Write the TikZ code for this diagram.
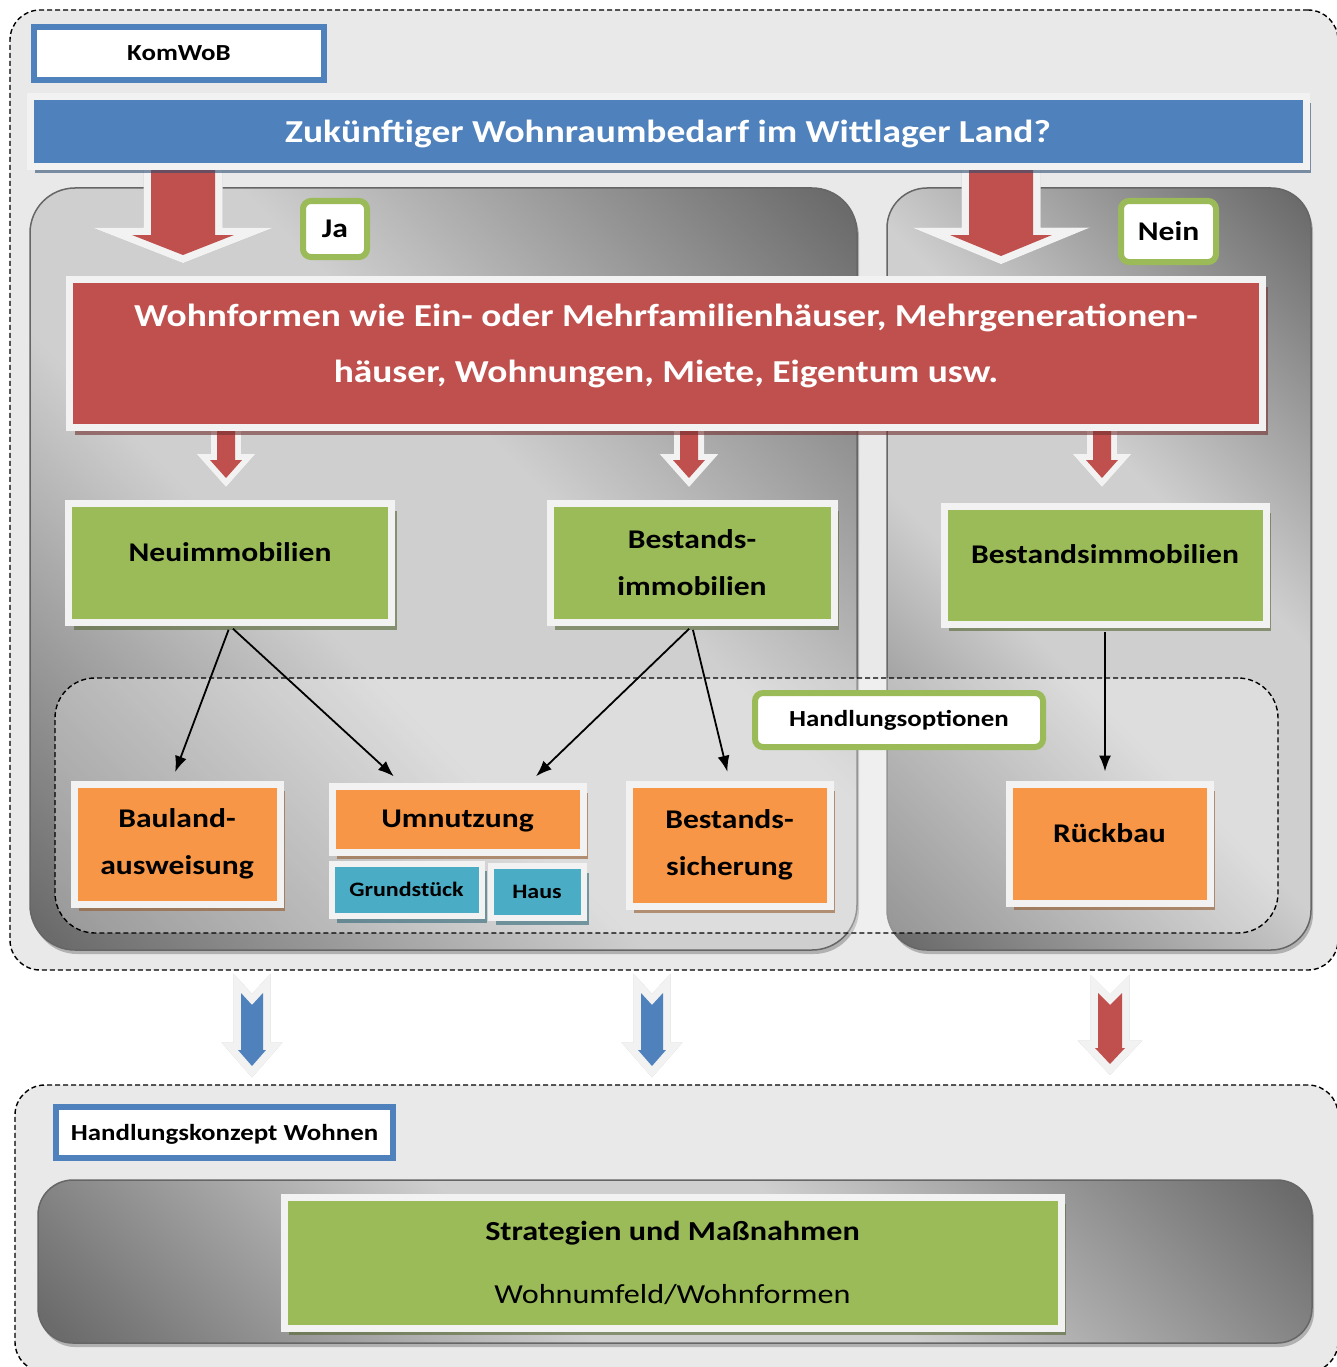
\documentclass[tikz,border=0pt]{standalone}
\usepackage{fontspec}
\setmainfont{Carlito}[FakeStretch=1.17]
\usetikzlibrary{arrows.meta,positioning,shadows,calc}

\definecolor{kwBlue}{HTML}{4F81BD}
\definecolor{kwRed}{HTML}{C0504D}
\definecolor{kwGreen}{HTML}{9BBB59}
\definecolor{kwOrange}{HTML}{F79646}
\definecolor{kwTeal}{HTML}{4BACC6}
\definecolor{kwFrame}{HTML}{F2F2F2}
\definecolor{kwBack}{HTML}{E9E9E9}

\pgfdeclarehorizontalshading{panelgrad}{100bp}{color(0bp)=(black!60); color(16bp)=(black!58); color(42bp)=(black!19); color(58bp)=(black!19); color(84bp)=(black!58); color(100bp)=(black!60)}

% block arrow: colour, tail, tip, half shaft, half head, head length, notch, rim
\newcommand{\blockarrow}[8]{%
  \def\arrowpts{let \p1=(#2), \p2=(#3) in
    (\x1-#4,\y1) -- (\x1,\y1-#7) -- (\x1+#4,\y1) -- (\x1+#4,\y2+#6) -- (\x1+#5,\y2+#6)
    -- (\x2,\y2) -- (\x1-#5,\y2+#6) -- (\x1-#4,\y2+#6) -- cycle}%
  \path[arshadow,line width=#8] \arrowpts;
  \path[arframe,line width=#8] \arrowpts;
  \path[fill=#1] \arrowpts;
}

\tikzset{
  zone/.style={draw,dash pattern=on 5pt off 3pt,line width=1.4pt,rounded corners=30pt,fill=kwBack,inner sep=0pt},
  optzone/.style={draw,dash pattern=on 5pt off 3pt,line width=1.4pt,rounded corners=40pt,fill=white,fill opacity=.3,inner sep=0pt},
  panel/.style={draw=black!60,line width=1.5pt,rounded corners=45pt,shade,shading=panelgrad,shading angle=45,inner sep=0pt,
    drop shadow={shadow xshift=2pt,shadow yshift=-4pt,fill=black!45,opacity=.6}},
  frame/.style={draw=kwFrame,line width=7pt,inner sep=0pt,align=center,
    drop shadow={shadow xshift=5pt,shadow yshift=-7pt,fill=#1,opacity=.6}},
  titlebar/.style={frame=kwBlue!60!black,fill=kwBlue,text=white,font=\fontsize{32}{40}\selectfont\bfseries},
  redbox/.style={frame=kwRed!60!black,fill=kwRed,text=white,font=\fontsize{32}{56}\selectfont\bfseries},
  greenbox/.style={frame=kwGreen!55!black,fill=kwGreen,font=\fontsize{27}{47}\selectfont\bfseries},
  orangebox/.style={frame=kwOrange!60!black,fill=kwOrange,font=\fontsize{27}{47}\selectfont\bfseries},
  tealbox/.style={frame=kwTeal!60!black,fill=kwTeal,line width=6pt,font=\fontsize{20.5}{24}\selectfont\bfseries},
  headbox/.style={draw=kwBlue,line width=6pt,fill=white,inner sep=0pt,font=\fontsize{23}{26}\selectfont\bfseries},
  tagbox/.style={draw=kwGreen,line width=6pt,fill=white,rounded corners=8pt,inner sep=0pt,font=\fontsize{27}{30}\selectfont\bfseries},
  lifted/.style={text depth=#1},
  arshadow/.style={shift={(2.5pt,-2.5pt)},draw=black!60,fill=black!60,opacity=.35,line join=miter},
  arframe/.style={draw=kwFrame,fill=kwFrame,line join=miter},
  conn/.style={-{Latex[length=16pt,width=12pt]},line width=1.8pt,shorten <=4pt,shorten >=9pt}
}

\begin{document}
\begin{tikzpicture}[x=1pt,y=-1pt]
\useasboundingbox[fill=white] (0,0) rectangle (1337,1367);

% containers
\node[zone,minimum width=1328pt,minimum height=960pt] (upper) at (674,490) {};
\node[zone,minimum width=1323pt,minimum height=287pt] (lower) at (676.5,1228.5) {};
\node[panel,minimum width=827pt,minimum height=762pt] (jaPanel) at (443.5,569) {};
\node[panel,rounded corners=40pt,minimum width=424pt,minimum height=762pt] (neinPanel) at (1099,569) {};
\node[panel,rounded corners=35pt,minimum width=1274pt,minimum height=163pt] (basePanel) at (675,1261.5) {};
\node[optzone,minimum width=1223pt,minimum height=255pt] (optZone) at (666.5,805.5) {};

% block arrows
\coordinate (jaTail) at (183,160);   \coordinate (jaTip) at (183,255);
\coordinate (neinTail) at (1001,160); \coordinate (neinTip) at (1001,256);
\coordinate (neuTail) at (226,425);  \coordinate (neuTip) at (226,478);
\coordinate (bestTail) at (689,425); \coordinate (bestTip) at (689,478);
\coordinate (noTail) at (1102,425);  \coordinate (noTip) at (1102,478);
\coordinate (outA) at (252,993);  \coordinate (outATip) at (252,1066);
\coordinate (outB) at (652,993);  \coordinate (outBTip) at (652,1066);
\coordinate (outC) at (1110,993); \coordinate (outCTip) at (1110,1064);
\blockarrow{kwRed}{jaTail}{jaTip}{32pt}{51pt}{20pt}{0pt}{15pt}
\blockarrow{kwRed}{neinTail}{neinTip}{32pt}{51pt}{21pt}{0pt}{15pt}
\blockarrow{kwRed}{neuTail}{neuTip}{9pt}{16pt}{18pt}{0pt}{12pt}
\blockarrow{kwRed}{bestTail}{bestTip}{9pt}{16pt}{18pt}{0pt}{12pt}
\blockarrow{kwRed}{noTail}{noTip}{9pt}{16pt}{18pt}{0pt}{12pt}
\blockarrow{kwBlue}{outA}{outATip}{11pt}{14pt}{16pt}{12pt}{15pt}
\blockarrow{kwBlue}{outB}{outBTip}{11pt}{14pt}{16pt}{12pt}{15pt}
\blockarrow{kwRed}{outC}{outCTip}{12pt}{15pt}{16pt}{12pt}{15pt}

% header
\node[headbox,lifted=0pt,minimum width=290pt,minimum height=53pt] (komwob) at (179,53.5) {KomWoB};
\node[titlebar,lifted=0pt,minimum width=1276pt,minimum height=70pt] (title) at (668,131.5) {Zukünftiger Wohnraumbedarf im Wittlager Land?};
\node[tagbox,lifted=0pt,minimum width=64pt,minimum height=56pt] (ja) at (335,229) {Ja};
\node[tagbox,lifted=0pt,minimum width=95pt,minimum height=61pt] (nein) at (1168.5,231.5) {Nein};
\node[redbox,lifted=21pt,minimum width=1193pt,minimum height=148pt] (wohn) at (666,353.5)
  {Wohnformen wie Ein- oder Mehrfamilienhäuser, Mehrgenerationen-\\häuser, Wohnungen, Miete, Eigentum usw.};

% property types
\node[greenbox,lifted=21pt,minimum width=323pt,minimum height=119pt] (neu) at (230,563) {Neuimmobilien};
\node[greenbox,minimum width=284pt,minimum height=119pt] (bestand) at (692,563) {Bestands-\\immobilien};
\node[greenbox,lifted=21pt,minimum width=322pt,minimum height=118pt] (bestandNein) at (1105,565) {Bestandsimmobilien};

% options
\node[tagbox,font=\fontsize{23}{26}\selectfont\bfseries,minimum width=288pt,minimum height=54pt] (optTag) at (899,720) {Handlungsoptionen};
\node[orangebox,minimum width=206pt,minimum height=120pt] (bauland) at (177,844) {Bauland-\\ausweisung};
\node[orangebox,lifted=0pt,minimum width=251pt,minimum height=66pt] (umnutz) at (457.5,819) {Umnutzung};
\node[tealbox,minimum width=150pt,minimum height=52pt,below right=5pt and 0pt of umnutz.south west] (grund) {Grundstück};
\node[tealbox,minimum width=93pt,minimum height=52pt,right=3pt of grund,yshift=-2pt] (haus) {Haus};
\node[orangebox,minimum width=201pt,minimum height=122pt] (sicherung) at (729.5,845) {Bestands-\\sicherung};
\node[orangebox,lifted=21pt,minimum width=201pt,minimum height=119pt] (rueckbau) at (1109.5,843.5) {Rückbau};

\draw[conn] (neu.south) -- ([xshift=-5pt]bauland.north);
\draw[conn] (neu.south) -- ([xshift=-57pt]umnutz.north);
\draw[conn] (bestand.south) -- ([xshift=72pt]umnutz.north);
\draw[conn] (bestand.south) -- (sicherung.north);
\draw[conn] (bestandNein.south) -- (bestandNein.south |- rueckbau.north);

% result
\node[headbox,lifted=0pt,minimum width=337pt,minimum height=51pt] (konzept) at (224.5,1132.5) {Handlungskonzept Wohnen};
\node[greenbox,font=\fontsize{27.5}{63}\selectfont,minimum width=777pt,minimum height=131pt] (strat) at (672.5,1262.5)
  {\textbf{Strategien und Maßnahmen}\\Wohnumfeld/Wohnformen};
\end{tikzpicture}
\end{document}
